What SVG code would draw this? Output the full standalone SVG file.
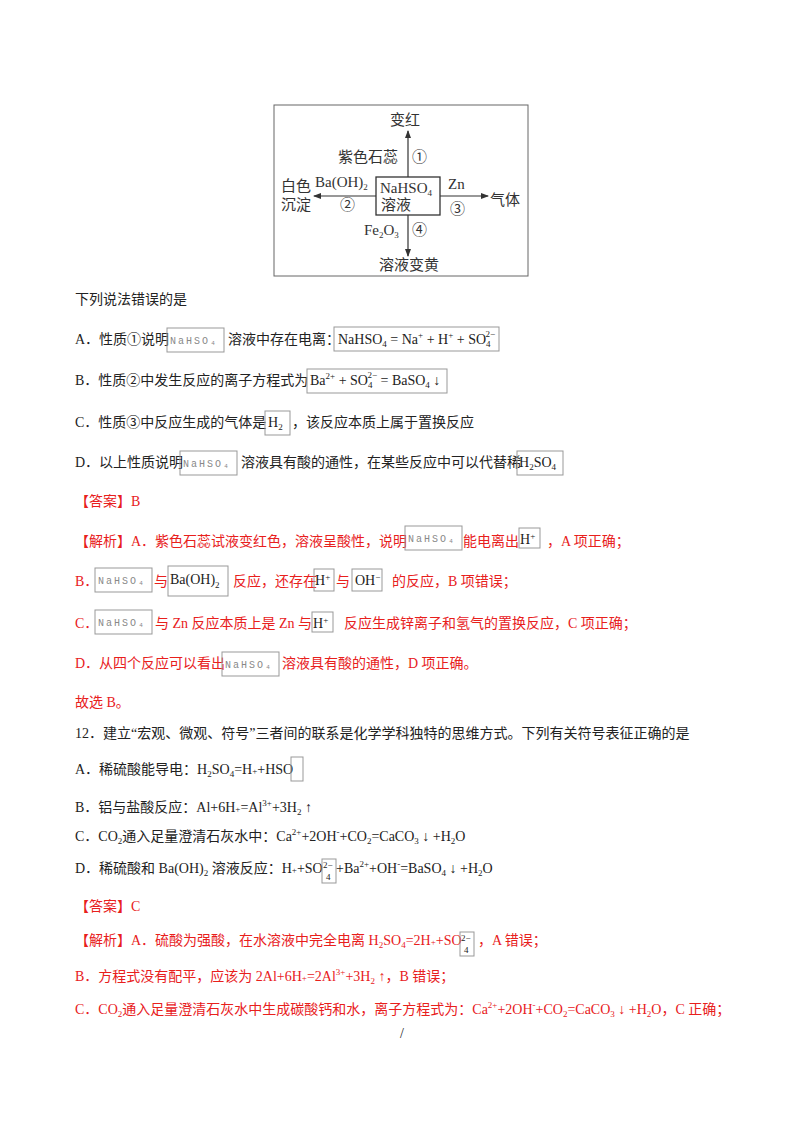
<svg xmlns="http://www.w3.org/2000/svg" width="800" height="1132" viewBox="0 0 800 1132">
<defs>
<marker id="ah" markerWidth="8" markerHeight="8" refX="7" refY="4" orient="auto" markerUnits="userSpaceOnUse"><path d="M0,1 L8,4 L0,7 Z" fill="#333"/></marker>
</defs>
<style>
text{font-family:"Liberation Serif","Noto Sans CJK SC",serif;font-size:14px;fill:#222}
.r{fill:#e8201c}
.d{font-size:15px;fill:#333}
.img{fill:none;stroke:#999;stroke-width:1}
.g{font-size:10px;fill:#888;letter-spacing:2px;font-family:"Liberation Mono",monospace}
.s{font-size:9px}
.ln{stroke:#333;stroke-width:1.2;fill:none}
</style>
<rect width="800" height="1132" fill="#fff"/>
<rect x="274" y="105" width="254" height="171" fill="none" stroke="#666"/>
<g id="center"><rect x="376" y="177" width="64" height="38" fill="none" stroke="#333" stroke-width="1.3"/><text class="d" x="380" y="193">NaHSO<tspan class="s" dy="3">4</tspan></text><text class="d" x="381" y="210">溶液</text></g>
<g id="top"><text class="d" x="390" y="125">变红</text></g>
<g id="left"><text class="d" x="281" y="191">白色</text><text class="d" x="281" y="210">沉淀</text></g>
<g id="right"><text class="d" x="490" y="205">气体</text></g>
<g id="bottom"><text class="d" x="379" y="270">溶液变黄</text></g>
<g id="connectors">
<line class="ln" x1="408" y1="177" x2="408" y2="131" marker-end="url(#ah)"/>
<line class="ln" x1="376" y1="196" x2="314" y2="196" marker-end="url(#ah)"/>
<line class="ln" x1="440" y1="196" x2="488" y2="196" marker-end="url(#ah)"/>
<line class="ln" x1="408" y1="215" x2="408" y2="256" marker-end="url(#ah)"/>
<text class="d" x="338" y="162">紫色石蕊</text><text class="d" x="412" y="162">①</text>
<text class="d" x="315" y="187">Ba(OH)<tspan class="s" dy="3">2</tspan></text><text class="d" x="340" y="210">②</text>
<text class="d" x="448" y="189">Zn</text><text class="d" x="450" y="214">③</text>
<text class="d" x="364" y="235">Fe<tspan class="s" dy="3">2</tspan><tspan dy="-3">O</tspan><tspan class="s" dy="3">3</tspan></text><text class="d" x="412" y="235">④</text>
</g>

<text x="75" y="304">下列说法错误的是</text>

<text x="75" y="344">A．性质①说明</text>
<rect class="img" x="167" y="328" width="57" height="24"/><text class="g" x="170" y="344">NaHSO₄</text>
<text x="228" y="344">溶液中存在电离：</text>
<rect class="img" x="334" y="327" width="165" height="24"/>
<text x="338" y="344">NaHSO<tspan class="s" dy="3">4</tspan><tspan dy="-3"> = Na</tspan><tspan class="s" dy="-6">+</tspan><tspan dy="6"> + H</tspan><tspan class="s" dy="-6">+</tspan><tspan dy="6"> + SO</tspan><tspan class="s" dy="3">4</tspan><tspan class="s" dx="-5" dy="-10">2−</tspan></text>

<text x="75" y="385">B．性质②中发生反应的离子方程式为</text>
<rect class="img" x="307" y="369" width="140" height="24"/>
<text x="310" y="385">Ba<tspan class="s" dy="-6">2+</tspan><tspan dy="6"> + SO</tspan><tspan class="s" dy="3">4</tspan><tspan class="s" dx="-5" dy="-10">2−</tspan><tspan dy="7"> = BaSO</tspan><tspan class="s" dy="3">4</tspan><tspan dy="-3"> ↓</tspan></text>

<text x="75" y="427">C．性质③中反应生成的气体是</text>
<rect class="img" x="265" y="411" width="25" height="24"/><text x="268" y="427">H<tspan class="s" dy="3">2</tspan></text>
<text x="292" y="427">，该反应本质上属于置换反应</text>

<text x="75" y="467">D．以上性质说明</text>
<rect class="img" x="180" y="451" width="57" height="24"/><text class="g" x="183" y="467">NaHSO₄</text>
<text x="241" y="467">溶液具有酸的通性，在某些反应中可以代替稀</text>
<rect class="img" x="517" y="451" width="46" height="24"/><text x="519" y="467">H<tspan class="s" dy="3">2</tspan><tspan dy="-3">SO</tspan><tspan class="s" dy="3">4</tspan></text>

<text x="75" y="506" class="r">【答案】B</text>

<text x="75" y="546" class="r">【解析】A．紫色石蕊试液变红色，溶液呈酸性，说明</text>
<rect class="img" x="405" y="526" width="57" height="24"/><text class="g" x="408" y="542">NaHSO₄</text>
<text x="463" y="546" class="r">能电离出</text>
<rect class="img" x="519" y="528" width="21" height="20"/><text x="520" y="544">H<tspan class="s" dy="-5">+</tspan></text>
<text x="547" y="546" class="r">，A 项正确；</text>

<text x="75" y="586" class="r">B．</text>
<rect class="img" x="95" y="568" width="57" height="24"/><text class="g" x="98" y="584">NaHSO₄</text>
<text x="154" y="586" class="r">与</text>
<rect class="img" x="168" y="566" width="60" height="30"/><text x="170" y="584">Ba(OH)<tspan class="s" dy="4">2</tspan></text>
<text x="233" y="586" class="r">反应，还存在</text>
<rect class="img" x="314" y="569" width="20" height="22"/><text x="315" y="585">H<tspan class="s" dy="-5">+</tspan></text>
<text x="336" y="586" class="r">与</text>
<rect class="img" x="352" y="569" width="30" height="22"/><text x="355" y="585">OH<tspan class="s" dy="-5">−</tspan></text>
<text x="392" y="586" class="r">的反应，B 项错误；</text>

<text x="75" y="628" class="r">C．</text>
<rect class="img" x="95" y="610" width="57" height="24"/><text class="g" x="98" y="626">NaHSO₄</text>
<text x="155" y="628" class="r">与 Zn 反应本质上是 Zn 与</text>
<rect class="img" x="312" y="612" width="21" height="20"/><text x="313" y="628">H<tspan class="s" dy="-5">+</tspan></text>
<text x="344" y="628" class="r">反应生成锌离子和氢气的置换反应，C 项正确；</text>

<text x="75" y="668" class="r">D．从四个反应可以看出</text>
<rect class="img" x="222" y="652" width="57" height="24"/><text class="g" x="225" y="668">NaHSO₄</text>
<text x="282" y="668" class="r">溶液具有酸的通性，D 项正确。</text>

<text x="75" y="707" class="r">故选 B。</text>

<text x="75" y="738">12．建立“宏观、微观、符号”三者间的联系是化学学科独特的思维方式。下列有关符号表征正确的是</text>

<text x="75" y="774">A．稀硫酸能导电：H<tspan class="s" dy="3">2</tspan><tspan dy="-3">SO</tspan><tspan class="s" dy="3">4</tspan><tspan dy="-3">=H</tspan><tspan class="s">+</tspan>+HSO</text>
<rect class="img" x="291" y="757" width="12" height="24"/>

<text x="75" y="812">B．铝与盐酸反应：Al+6H<tspan class="s">+</tspan>=Al<tspan class="s" dy="-6">3+</tspan><tspan dy="6">+3H</tspan><tspan class="s" dy="3">2</tspan><tspan dy="-3"> ↑</tspan></text>

<text x="75" y="841">C．CO<tspan class="s" dy="3">2</tspan><tspan dy="-3">通入足量澄清石灰水中：Ca</tspan><tspan class="s" dy="-6">2+</tspan><tspan dy="6">+2OH</tspan><tspan class="s" dy="-6">-</tspan><tspan dy="6">+CO</tspan><tspan class="s" dy="3">2</tspan><tspan dy="-3">=CaCO</tspan><tspan class="s" dy="3">3</tspan><tspan dy="-3"> ↓ +H</tspan><tspan class="s" dy="3">2</tspan><tspan dy="-3">O</tspan></text>

<text x="75" y="873">D．稀硫酸和 Ba(OH)<tspan class="s" dy="3">2</tspan><tspan dy="-3"> 溶液反应：H</tspan><tspan class="s">+</tspan>+SO</text>
<rect class="img" x="322" y="859" width="14" height="24"/><text class="s" x="323" y="868" font-size="7">2−</text><text class="s" x="326" y="880" font-size="7">4</text>
<text x="336" y="873">+Ba<tspan class="s" dy="-6">2+</tspan><tspan dy="6">+OH</tspan><tspan class="s" dy="-6">-</tspan><tspan dy="6">=BaSO</tspan><tspan class="s" dy="3">4</tspan><tspan dy="-3"> ↓ +H</tspan><tspan class="s" dy="3">2</tspan><tspan dy="-3">O</tspan></text>

<text x="75" y="911" class="r">【答案】C</text>

<text x="75" y="945" class="r">【解析】A．硫酸为强酸，在水溶液中完全电离  H<tspan class="s" dy="3">2</tspan><tspan dy="-3">SO</tspan><tspan class="s" dy="3">4</tspan><tspan dy="-3">=2H</tspan><tspan class="s">+</tspan>+SO</text>
<rect class="img" x="460" y="932" width="14" height="24"/><text class="s" x="461" y="941" font-size="7">2−</text><text class="s" x="464" y="953" font-size="7">4</text>
<text x="478" y="945" class="r">，A 错误；</text>

<text x="75" y="981" class="r">B．方程式没有配平，应该为  2Al+6H<tspan class="s">+</tspan>=2Al<tspan class="s" dy="-6">3+</tspan><tspan dy="6">+3H</tspan><tspan class="s" dy="3">2</tspan><tspan dy="-3"> ↑，B 错误；</tspan></text>

<text x="75" y="1014" class="r">C．CO<tspan class="s" dy="3">2</tspan><tspan dy="-3">通入足量澄清石灰水中生成碳酸钙和水，离子方程式为：Ca</tspan><tspan class="s" dy="-6">2+</tspan><tspan dy="6">+2OH</tspan><tspan class="s" dy="-6">-</tspan><tspan dy="6">+CO</tspan><tspan class="s" dy="3">2</tspan><tspan dy="-3">=CaCO</tspan><tspan class="s" dy="3">3</tspan><tspan dy="-3"> ↓ +H</tspan><tspan class="s" dy="3">2</tspan><tspan dy="-3">O，C 正确；</tspan></text>

<text x="400" y="1038" font-size="12" fill="#444">/</text>
</svg>
